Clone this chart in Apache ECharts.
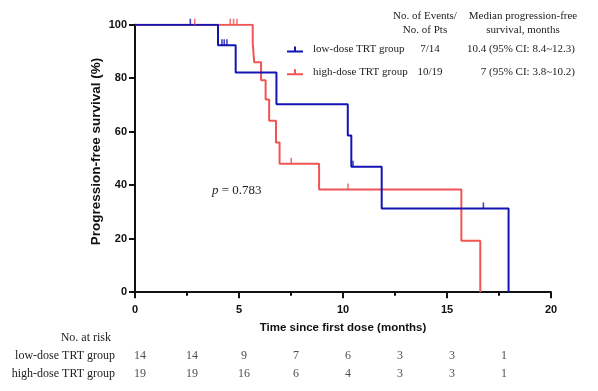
<!DOCTYPE html>
<html>
<head>
<meta charset="utf-8">
<script src="https://cdn.jsdelivr.net/npm/echarts@6/dist/echarts.min.js"></script>
<style>html,body{margin:0;padding:0;background:#fff}#c{width:598px;height:391px}</style>
</head>
<body>
<div id="c"></div>
<script>
const groupNames = ['low-dose TRT group', 'high-dose TRT group'];
const timesLow = [0, 3.99, 4.84, 6.8, 10.23, 10.4, 11.86, 17.96];
const survLow = [100, 92.3, 82.1, 70.3, 58.6, 46.9, 31.3, 0];
const timesHigh = [0, 5.66, 5.73, 6.06, 6.28, 6.45, 6.78, 6.95, 8.85, 15.69, 16.6];
const survHigh = [100, 93.0, 86.0, 79.2, 72.0, 64.1, 56.0, 48.0, 38.4, 19.2, 0];
const censorTimesLow = [2.66, 4.18, 4.29, 4.42, 10.48, 16.75];
const censorSurvLow = [100, 92.3, 92.3, 92.3, 46.9, 31.3];
const censorTimesHigh = [2.87, 4.58, 4.74, 4.9, 7.51, 10.24];
const censorSurvHigh = [100, 100, 100, 100, 48.0, 38.4];
const events = ['7/14', '10/19'];
const medians = ['10.4 (95% CI: 8.4~12.3)', '7 (95% CI: 3.8~10.2)'];
const riskRows = ['No. at risk', 'low-dose TRT group', 'high-dose TRT group'];
const riskTimes = [0, 2.5, 5, 7.5, 10, 12.5, 15, 17.5];
const riskLow = [14, 14, 9, 7, 6, 3, 3, 1];
const riskHigh = [19, 19, 16, 6, 4, 3, 3, 1];
const xTicks = [0, 5, 10, 15, 20];
const yTicks = [0, 20, 40, 60, 80, 100];

const BLUE = '#1414b4', RED = '#f05454';
const SANS = 'Liberation Sans', SERIF = 'Liberation Serif';
const zip = (a, b) => a.map((v, i) => [v, b[i]]);

const chart = echarts.init(document.getElementById('c'));
chart.setOption({
  animation: false,
  grid: [
    {left: 135, right: 47, top: 24.7, bottom: 98.8},
    {left: 135, right: 47, top: 328.2, height: 55}
  ],
  xAxis: [
    {type: 'value', gridIndex: 0, min: 0, max: 20, interval: 5,
     name: 'Time since first dose (months)', nameLocation: 'middle', nameGap: 30,
     nameTextStyle: {fontFamily: SANS, fontWeight: 'bold', fontSize: 11.5, color: '#111'},
     axisLine: {lineStyle: {color: '#111', width: 2}},
     axisTick: {length: 6, lineStyle: {color: '#111', width: 2}},
     minorTick: {show: true, splitNumber: 2, length: 3.5, lineStyle: {color: '#111', width: 2}},
     axisLabel: {margin: 12, fontFamily: SANS, fontWeight: 'bold', fontSize: 11, color: '#111',
       formatter: v => xTicks.includes(v) ? String(v) : ''},
     splitLine: {show: false}},
    {type: 'value', gridIndex: 1, min: 0, max: 20, show: false}
  ],
  yAxis: [
    {type: 'value', gridIndex: 0, min: 0, max: 100, interval: 20,
     name: 'Progression-free survival (%)', nameLocation: 'middle', nameGap: 32, nameMoveOverlap: false,
     nameTextStyle: {fontFamily: SANS, fontWeight: 'bold', fontSize: 13.5, color: '#111', padding: [0, 0, 0, 14]},
     axisLine: {show: true, lineStyle: {color: '#111', width: 2}},
     axisTick: {show: true, length: 6, lineStyle: {color: '#111', width: 2}},
     axisLabel: {margin: 8, fontFamily: SANS, fontWeight: 'bold', fontSize: 11, color: '#111',
       formatter: v => yTicks.includes(v) ? String(v) : ''},
     splitLine: {show: false}},
    {type: 'category', gridIndex: 1, data: riskRows, inverse: true,
     axisLine: {show: false}, axisTick: {show: false}, splitLine: {show: false},
     axisLabel: {margin: 20, fontFamily: SERIF, fontSize: 12, color: '#222',
       formatter: (v, i) => i === 0 ? '{n|' + v + '}' : v,
       rich: {n: {fontFamily: SERIF, fontSize: 12, color: '#222', padding: [0, 4, 0, 0]}}}}
  ],
  legend: {
    orient: 'vertical', left: 287, top: 44, itemGap: 11.7, padding: 0,
    itemWidth: 16, itemHeight: 6,
    data: groupNames.map(n => ({name: n, icon: 'path://M0,4h16v2h-16z M7,0h2v4h-2z'})),
    formatter: name => {
      const i = groupNames.indexOf(name);
      return '{a|' + name + '}{b|' + events[i] + '}{c|' + medians[i] + '}';
    },
    textStyle: {
      fontFamily: SERIF, fontSize: 11, color: '#222',
      rich: {
        a: {fontFamily: SERIF, fontSize: 11, color: '#222', width: 95, padding: [0, 0, 0, 5]},
        b: {fontFamily: SERIF, fontSize: 11, color: '#222', width: 44, align: 'center'},
        c: {fontFamily: SERIF, fontSize: 11, color: '#222', width: 123, align: 'right'}
      }
    }
  },
  graphic: [
    {type: 'text', x: 425, y: 16, style: {text: 'No. of Events/', fontFamily: SERIF, fontSize: 11, fill: '#222', align: 'center', verticalAlign: 'middle'}},
    {type: 'text', x: 425, y: 30, style: {text: 'No. of Pts', fontFamily: SERIF, fontSize: 11, fill: '#222', align: 'center', verticalAlign: 'middle'}},
    {type: 'text', x: 523, y: 16, style: {text: 'Median progression-free', fontFamily: SERIF, fontSize: 11, fill: '#222', align: 'center', verticalAlign: 'middle'}},
    {type: 'text', x: 523, y: 30, style: {text: 'survival, months', fontFamily: SERIF, fontSize: 11, fill: '#222', align: 'center', verticalAlign: 'middle'}},
    {type: 'text', x: 212, y: 191, style: {text: '{i|p} = 0.783', fontFamily: SERIF, fontSize: 13, fill: '#222', verticalAlign: 'middle',
      rich: {i: {fontFamily: SERIF, fontStyle: 'italic', fontSize: 13, fill: '#222'}}}}
  ],
  series: [
    {name: groupNames[0], type: 'line', step: 'end', xAxisIndex: 0, yAxisIndex: 0,
     data: zip(timesLow, survLow), symbol: 'none', color: BLUE, lineStyle: {color: BLUE, width: 2}, z: 3},
    {name: groupNames[1], type: 'line', step: 'end', xAxisIndex: 0, yAxisIndex: 0,
     data: zip(timesHigh, survHigh), symbol: 'none', color: RED, lineStyle: {color: RED, width: 2}, z: 2},
    {name: 'censor-low', type: 'scatter', xAxisIndex: 0, yAxisIndex: 0,
     data: zip(censorTimesLow, censorSurvLow), symbol: 'rect', symbolSize: [1.6, 6], symbolOffset: [0, -3],
     itemStyle: {color: BLUE}, z: 4},
    {name: 'censor-high', type: 'scatter', xAxisIndex: 0, yAxisIndex: 0,
     data: zip(censorTimesHigh, censorSurvHigh), symbol: 'rect', symbolSize: [1.6, 6], symbolOffset: [0, -3],
     itemStyle: {color: RED}, z: 4},
    {name: 'risk-low', type: 'scatter', xAxisIndex: 1, yAxisIndex: 1,
     data: riskTimes.map((t, i) => [t, riskRows[1], riskLow[i]]), symbolSize: 0,
     label: {show: true, position: 'inside', offset: [5, 0], formatter: p => String(p.value[2]), fontFamily: SERIF, fontSize: 12, color: '#222'}},
    {name: 'risk-high', type: 'scatter', xAxisIndex: 1, yAxisIndex: 1,
     data: riskTimes.map((t, i) => [t, riskRows[2], riskHigh[i]]), symbolSize: 0,
     label: {show: true, position: 'inside', offset: [5, 0], formatter: p => String(p.value[2]), fontFamily: SERIF, fontSize: 12, color: '#222'}}
  ]
});
</script>
</body>
</html>
